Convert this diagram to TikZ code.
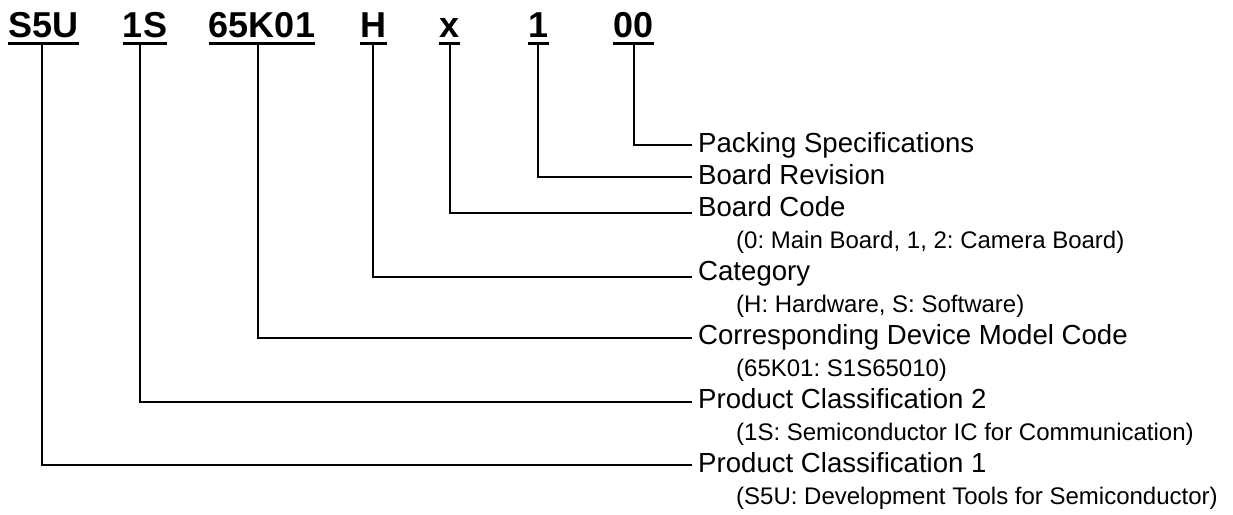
\documentclass[tikz,border=0pt]{standalone}
\usepackage{fontspec}
\setmainfont{Liberation Sans}
\frenchspacing
\begin{document}
\begin{tikzpicture}[x=1pt,y=-1pt,
  hdr/.style={font=\fontsize{36}{36}\selectfont\bfseries, inner sep=0pt, anchor=base},
  lbl/.style={font=\fontsize{27.6}{28}\selectfont, inner sep=0pt, anchor=base west},
  subl/.style={font=\fontsize{24}{24}\selectfont, inner sep=0pt, anchor=base west},
  conn/.style={line width=1.6pt},
  ul/.style={line width=3pt}]
\useasboundingbox (0,0) rectangle (1233,514);
% header
\node[hdr] (h1) at (43.5,37) {S5U};
\node[hdr] (h2) at (145,37) {1S};
\node[hdr] (h3) at (262,37) {65K01};
\node[hdr] (h4) at (373.5,37) {H};
\node[hdr] (h5) at (449.5,37) {x};
\node[hdr] (h6) at (538.5,37) {1};
\node[hdr] (h7) at (633.5,37) {00};
\foreach \n in {h1,h2,h3,h4,h5,h6,h7}{
  \draw[ul] ([yshift=-6.5pt]\n.base west) -- ([yshift=-6.5pt]\n.base east);
}
% connector starts
\coordinate (t1) at (42,45);
\coordinate (t2) at (140,45);
\coordinate (t3) at (258,45);
\coordinate (t4) at (373,45);
\coordinate (t5) at (450,45);
\coordinate (t6) at (538,45);
\coordinate (t7) at (634,45);
% connector ends
\coordinate (e7) at (692,145);
\coordinate (e6) at (692,177);
\coordinate (e5) at (692,213);
\coordinate (e4) at (692,277);
\coordinate (e3) at (692,338);
\coordinate (e2) at (692,402);
\coordinate (e1) at (692,465);
% labels
\node[lbl] (l7) at (698,152) {Packing Specifications};
\node[lbl] (l6) at (698,184) {Board Revision};
\node[lbl] (l5) at (698,216) {Board Code};
\node[subl] (s5) at (736,248) {(0: Main Board, 1, 2: Camera Board)};
\node[lbl] (l4) at (698,280) {Category};
\node[subl] (s4) at (736,312) {(H: Hardware, S: Software)};
\node[lbl] (l3) at (698,344) {Corresponding Device Model Code};
\node[subl] (s3) at (736,376) {(65K01: S1S65010)};
\node[lbl] (l2) at (698,408) {Product Classification 2};
\node[subl] (s2) at (736,440) {(1S: Semiconductor IC for Communication)};
\node[lbl] (l1) at (698,472) {Product Classification 1};
\node[subl] (s1) at (736,504) {(S5U: Development Tools for Semiconductor)};
% connectors
\foreach \i in {1,...,7}{
  \draw[conn] (t\i) |- (e\i);
}
\end{tikzpicture}
\end{document}
